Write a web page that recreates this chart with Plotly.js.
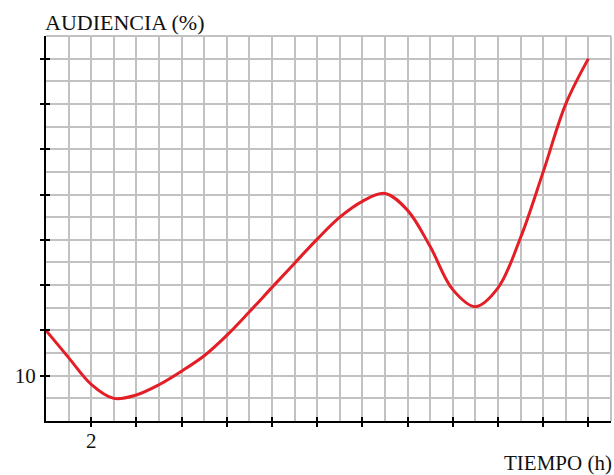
<!DOCTYPE html>
<html>
<head>
<meta charset="utf-8">
<script src="https://cdn.plot.ly/plotly-3.0.1.min.js"></script>
<style>html,body{margin:0;padding:0;background:#fff;}#chart{width:614px;height:475px;}</style>
</head>
<body>
<div id="chart"></div>
<script>
var hours = [0,1,2,3,4,5,6,7,8,9,10,11,12,13,14,15,16,17,18,19,20,21,22,23,24];
var audience = [12.0,10.8,9.62,9.0,9.15,9.6,10.2,10.88,11.78,12.82,13.9,14.97,16.03,17.0,17.7,18.05,17.3,15.7,13.8,13.05,13.88,16.1,19.0,22.0,24.0];
var xTickVals = [2,4,6,8,10,12,14,16,18,20,22,24];
var xTickText = ["2","","","","","","","","","","",""];
var yTickVals = [10,12,14,16,18,20,22,24];
var yTickText = ["10","","","","","","",""];
var xTitle = "TIEMPO (h)";
var yTitle = "AUDIENCIA (%)";

var serif = "Liberation Serif, Times New Roman, serif";
var gridCol = "#c2c2c2";
var data = [{
  x: hours, y: audience, type: "scatter", mode: "lines",
  line: {color: "#e41e26", width: 3, shape: "spline", smoothing: 1, simplify: false},
  hoverinfo: "skip", cliponaxis: false
}];
var layout = {
  width: 614, height: 475,
  margin: {l: 46, r: 3, t: 36, b: 54},
  paper_bgcolor: "#fff", plot_bgcolor: "#fff",
  showlegend: false,
  font: {family: serif, size: 18, color: "#111"},
  xaxis: {
    range: [0, 25], tickmode: "array", tickvals: xTickVals, ticktext: xTickText,
    showgrid: true, gridcolor: gridCol, gridwidth: 2,
    minor: {dtick: 1, tick0: 0, showgrid: true, gridcolor: gridCol, gridwidth: 2},
    showline: true, linecolor: "#000", linewidth: 2,
    ticks: "outside", ticklen: 4, tickwidth: 2, tickcolor: "#000",
    ticklabelstandoff: -4,
    zeroline: false, fixedrange: true,
    tickfont: {family: serif, size: 21, color: "#111"}
  },
  yaxis: {
    range: [8, 25], tickmode: "array", tickvals: yTickVals, ticktext: yTickText,
    showgrid: true, gridcolor: gridCol, gridwidth: 2,
    minor: {dtick: 1, tick0: 0, showgrid: true, gridcolor: gridCol, gridwidth: 2},
    showline: true, linecolor: "#000", linewidth: 2,
    ticks: "outside", ticklen: 4, tickwidth: 2, tickcolor: "#000",
    zeroline: false, fixedrange: true,
    tickfont: {family: serif, size: 21, color: "#111"}
  },
  xaxis2: {range: [0, 25], overlaying: "x", tickmode: "array", tickvals: xTickVals,
    showticklabels: false, ticks: "inside", ticklen: 4, tickwidth: 2, tickcolor: "#000",
    showgrid: false, zeroline: false, showline: false, anchor: "y"},
  yaxis2: {range: [8, 25], overlaying: "y", tickmode: "array", tickvals: yTickVals,
    showticklabels: false, ticks: "inside", ticklen: 4, tickwidth: 2, tickcolor: "#000",
    showgrid: false, zeroline: false, showline: false, anchor: "x", side: "left"},
  shapes: [
    {type: "line", xref: "paper", yref: "paper", x0: 0, x1: 1, y0: 1, y1: 1, line: {color: gridCol, width: 2}},
    {type: "line", xref: "paper", yref: "paper", x0: 1, x1: 1, y0: 0, y1: 1, line: {color: gridCol, width: 2}}
  ],
  annotations: [
    {text: yTitle, xref: "paper", yref: "paper", x: 0, y: 1, xanchor: "left", yanchor: "bottom", yshift: -1, xshift: -3,
     showarrow: false, font: {family: serif, size: 22, color: "#111"}},
    {text: xTitle, xref: "paper", yref: "paper", x: 1, y: 0, xanchor: "right", yanchor: "top", yshift: -28, xshift: 3,
     showarrow: false, font: {family: serif, size: 21, color: "#111"}}
  ]
};
data.push({x: [0], y: [8], xaxis: "x2", yaxis: "y2", mode: "markers", marker: {opacity: 0}, hoverinfo: "skip"});
Plotly.newPlot("chart", data, layout, {displayModeBar: false, staticPlot: true});
</script>
</body>
</html>
